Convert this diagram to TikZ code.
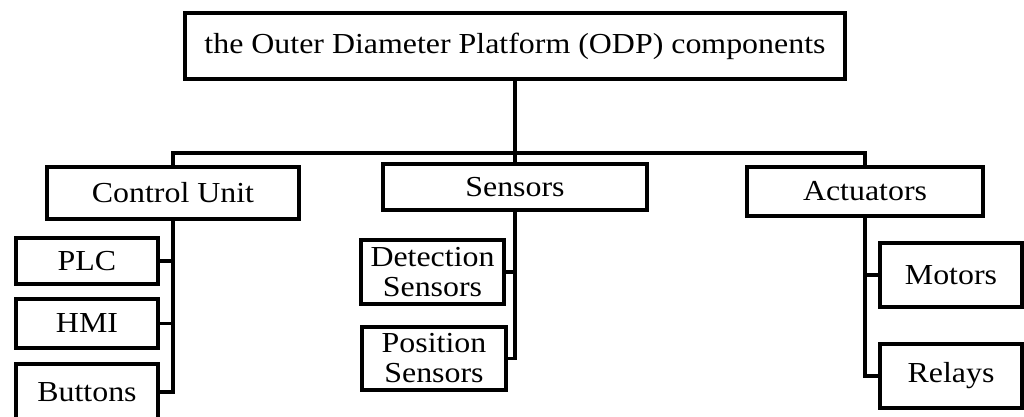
\documentclass[tikz,border=0pt]{standalone}
\usepackage{fontspec}
\setmainfont[FakeStretch=1.1]{Liberation Serif}
\begin{document}
\begin{tikzpicture}[x=1pt,y=-1pt,
  box/.style={draw=black,line width=3.2pt,fill=white,inner sep=0pt,align=center,
    font=\fontsize{29}{30}\selectfont},
  link/.style={draw=black,line width=3.2pt}]
\useasboundingbox (0,0) rectangle (1024,417);

% root
\node[box,minimum width=660,minimum height=66] (root) at (515,46)
  {the Outer Diameter Platform (ODP) components};

% first level
\node[box,minimum width=252,minimum height=52] (cu) at (173,193) {Control Unit};
\node[box,minimum width=264,minimum height=46] (sen) at (515,187) {Sensors};
\node[box,minimum width=236,minimum height=49] (act) at (865,191.5) {Actuators};

% control unit parts
\node[box,minimum width=142,minimum height=46] (plc) at (87,261) {PLC};
\node[box,minimum width=142,minimum height=49] (hmi) at (87,323.5) {HMI};
\node[box,minimum width=142,minimum height=56] (btn) at (87,392) {Buttons};

% sensor parts
\node[box,minimum width=143,minimum height=64] (det) at (432.5,272) {Detection\\Sensors};
\node[box,minimum width=144,minimum height=63] (pos) at (434,358.5) {Position\\Sensors};

% actuator parts
\node[box,minimum width=142,minimum height=64] (mot) at (951,275) {Motors};
\node[box,minimum width=142,minimum height=64] (rel) at (951,376) {Relays};

% tree connectors
\coordinate (bus) at (515,153);
\draw[link] (root.south) -- (sen.north);
\draw[link] (cu.north) |- (bus) -| (act.north);

\draw[link] (cu.south) |- (plc.east);
\draw[link] (cu.south) |- (hmi.east);
\draw[link] (cu.south) |- (btn.east);

\draw[link] (sen.south) |- (det.east);
\draw[link] (sen.south) |- (pos.east);

\draw[link] (act.south) |- (mot.west);
\draw[link] (act.south) |- (rel.west);
\end{tikzpicture}
\end{document}
